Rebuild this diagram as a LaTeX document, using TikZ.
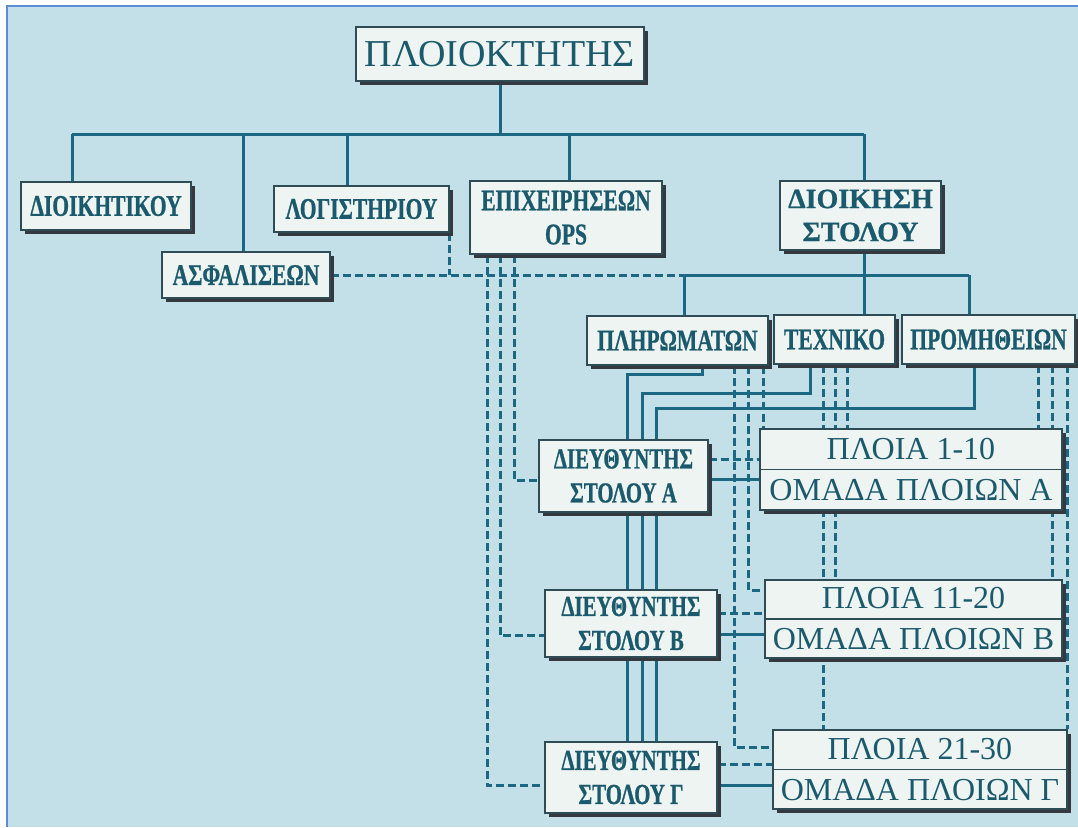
\documentclass[tikz,border=0pt]{standalone}
\usepackage{fontspec}
\setmainfont{Liberation Serif}
\newfontfamily\cnd{Liberation Serif}[FakeStretch=0.72,FakeBold=0.8]
\newfontfamily\wbf{Liberation Serif}[FakeBold=0.8]
\usetikzlibrary{shadows,backgrounds}
\definecolor{bgc}{HTML}{C3E0E8}
\definecolor{boxf}{HTML}{EEF4F2}
\definecolor{bord}{HTML}{2E4C56}
\definecolor{shad}{HTML}{33393E}
\definecolor{linec}{HTML}{1C6782}
\definecolor{txt}{HTML}{1B5A6C}
\definecolor{framec}{HTML}{5B8ED6}
\pgfdeclarelayer{bgfill}
\pgfsetlayers{bgfill,background,main}
\tikzset{
  box/.style={draw=bord, line width=1.5pt, fill=boxf, inner sep=0pt, text=txt, align=center,
    drop shadow={shadow xshift=3.5pt, shadow yshift=-3.5pt, fill=shad, opacity=1}},
  lbl/.style={box, font=\cnd\bfseries\fontsize{30}{34}\selectfont},
  dirbox/.style={box, font=\cnd\bfseries\fontsize{29}{34}\selectfont},
  wbold/.style={box, font=\wbf\bfseries\fontsize{28}{33}\selectfont},
  shipbox/.style={box, font=\fontsize{32}{41}\selectfont},
  conn/.style={draw=linec, line width=3pt},
  dsh/.style={draw=linec, line width=3pt, dash pattern=on 8pt off 4pt},
  divline/.style={draw=bord, line width=1.5pt}
}
\begin{document}
\begin{tikzpicture}[x=1pt,y=-1pt]
\useasboundingbox (0,0) rectangle (1078,827);
\begin{pgfonlayer}{bgfill}
  \fill[white] (0,0) rectangle (1078,827);
  \fill[bgc] (7,6) rectangle (1078,827);
  \draw[framec, line width=2pt] (7,827) -- (7,6) -- (1078,6);
\end{pgfonlayer}

% nodes
\node[box, font=\fontsize{38}{40}\selectfont, minimum width=288pt, minimum height=54pt] (own) at (500,54) {ΠΛΟΙΟΚΤΗΤΗΣ};
\node[lbl, minimum width=170pt, minimum height=48pt] (dioik) at (106,206) {ΔΙΟΙΚΗΤΙΚΟΥ};
\node[lbl, minimum width=168pt, minimum height=46pt] (asfal) at (246,275) {ΑΣΦΑΛΙΣΕΩΝ};
\node[lbl, minimum width=175pt, minimum height=46pt] (logist) at (361.5,209) {ΛΟΓΙΣΤΗΡΙΟΥ};
\node[lbl, minimum width=192pt, minimum height=73pt] (epix) at (566,217.5) {ΕΠΙΧΕΙΡΗΣΕΩΝ\\OPS};
\node[wbold, minimum width=161pt, minimum height=69pt] (dstol) at (860.5,215.5) {ΔΙΟΙΚΗΣΗ\\ΣΤΟΛΟΥ};
\node[lbl, minimum width=181pt, minimum height=49pt] (plir) at (677.5,340.5) {ΠΛΗΡΩΜΑΤΩΝ};
\node[lbl, minimum width=121pt, minimum height=49pt] (texn) at (834.5,339.5) {ΤΕΧΝΙΚΟ};
\node[lbl, minimum width=173pt, minimum height=49pt] (prom) at (988.5,339.5) {ΠΡΟΜΗΘΕΙΩΝ};
\node[dirbox, minimum width=169pt, minimum height=72pt] (dA) at (623.5,476) {ΔΙΕΥΘΥΝΤΗΣ\\ΣΤΟΛΟΥ Α};
\node[dirbox, minimum width=172pt, minimum height=67pt] (dB) at (631,623.5) {ΔΙΕΥΘΥΝΤΗΣ\\ΣΤΟΛΟΥ Β};
\node[dirbox, minimum width=172pt, minimum height=71pt] (dG) at (631,777.5) {ΔΙΕΥΘΥΝΤΗΣ\\ΣΤΟΛΟΥ Γ};
\node[shipbox, minimum width=302pt, minimum height=81pt] (pA) at (911,469.5) {ΠΛΟΙΑ 1-10\\ΟΜΑΔΑ ΠΛΟΙΩΝ Α};
\node[shipbox, minimum width=297pt, minimum height=78pt] (pB) at (913.5,619) {ΠΛΟΙΑ 11-20\\ΟΜΑΔΑ ΠΛΟΙΩΝ Β};
\node[shipbox, minimum width=294pt, minimum height=79pt] (pG) at (920,769.5) {ΠΛΟΙΑ 21-30\\ΟΜΑΔΑ ΠΛΟΙΩΝ Γ};
\draw[divline] (pA.west) -- (pA.east);
\draw[divline] (pB.west) -- (pB.east);
\draw[divline] (pG.west) -- (pG.east);

% coordinates
\coordinate (t1) at (72,134);
\coordinate (t2) at (243,134);
\coordinate (t3) at (347,134);
\coordinate (t5) at (569,134);
\coordinate (t6) at (864,134);
\coordinate (u1) at (684,275);
\coordinate (u2) at (864,275);
\coordinate (u3) at (969,275);
\coordinate (o1) at (487,0);
\coordinate (o2) at (500,0);
\coordinate (o3) at (514,0);
\coordinate (a1) at (702,0);
\coordinate (a2) at (810,0);
\coordinate (a3) at (974,0);
\coordinate (s1) at (627,374);
\coordinate (s2) at (642,393);
\coordinate (s3) at (656,408);
\coordinate (q1) at (734,747);
\coordinate (q2) at (748,590);
\coordinate (q3) at (763,0);
\coordinate (r1) at (823,0);
\coordinate (r2) at (835,0);
\coordinate (r3) at (847,0);
\coordinate (w1) at (1038,0);
\coordinate (w2) at (1052,0);
\coordinate (w3) at (1067,0);

\begin{pgfonlayer}{background}
% top bus
\draw[conn] (own.south) -- (own.south |- t1);
\draw[conn] (t1) -- (t6);
\draw[conn] (t1) -- (t1 |- dioik.north);
\draw[conn] (t2) -- (t2 |- asfal.north);
\draw[conn] (t3) -- (t3 |- logist.north);
\draw[conn] (t5) -- (t5 |- epix.north);
\draw[conn] (t6) -- (t6 |- dstol.north);
% second bus
\draw[conn] (u1) -- (u3);
\draw[conn] (dstol.south -| u2) -- (u2 |- texn.north);
\draw[conn] (u1) -- (u1 |- plir.north);
\draw[conn] (u3) -- (u3 |- prom.north);
\draw[dsh] (asfal.east) -- (asfal.east -| u1);
\draw[dsh] (logist.south east) -- (logist.south east |- u1);
% OPS to directors
\draw[dsh] (epix.south -| o3) |- ([yshift=-4pt]dA.west);
\draw[dsh] (epix.south -| o2) |- ([yshift=-12pt]dB.west);
\draw[dsh] (epix.south -| o1) |- ([yshift=-8pt]dG.west);
% departments to directors (solid)
\draw[conn] (plir.south -| a1) |- (s1) -- (s1 |- dG.north);
\draw[conn] (texn.south -| a2) |- (s2) -- (s2 |- dG.north);
\draw[conn] (prom.south -| a3) |- (s3) -- (s3 |- dG.north);
% departments to ship groups (dashed)
\draw[dsh] (plir.south -| q3) -- (q3 |- pA.north);
\draw[dsh] (plir.south -| q2) -- (q2) -- (q2 -| pB.west);
\draw[dsh] (plir.south -| q1) -- (q1) -- (q1 -| pG.west);
\draw[dsh] (texn.south -| r3) -- (r3 |- pA.north);
\draw[dsh] (texn.south -| r2) -- (r2 |- pB.north);
\draw[dsh] (texn.south -| r1) -- (r1 |- pG.north);
\draw[dsh] (prom.south -| w1) -- (w1 |- pA.north);
\draw[dsh] (prom.south -| w2) -- (w2 |- pB.north);
\draw[dsh] (prom.south -| w3) -- (w3 |- pG.north);
% directors to ship groups
\draw[dsh] ([yshift=17pt]dA.east) -- ([yshift=17pt]dA.east -| pA.west);
\draw[conn] ([yshift=-3pt]dA.east) -- ([yshift=-3pt]dA.east -| pA.west);
\draw[dsh] ([yshift=10pt]dB.east) -- ([yshift=10pt]dB.east -| pB.west);
\draw[conn] ([yshift=-11pt]dB.east) -- ([yshift=-11pt]dB.east -| pB.west);
\draw[dsh] ([yshift=13pt]dG.east) -- ([yshift=13pt]dG.east -| pG.west);
\draw[conn] ([yshift=-8pt]dG.east) -- ([yshift=-8pt]dG.east -| pG.west);
\end{pgfonlayer}
\end{tikzpicture}
\end{document}
